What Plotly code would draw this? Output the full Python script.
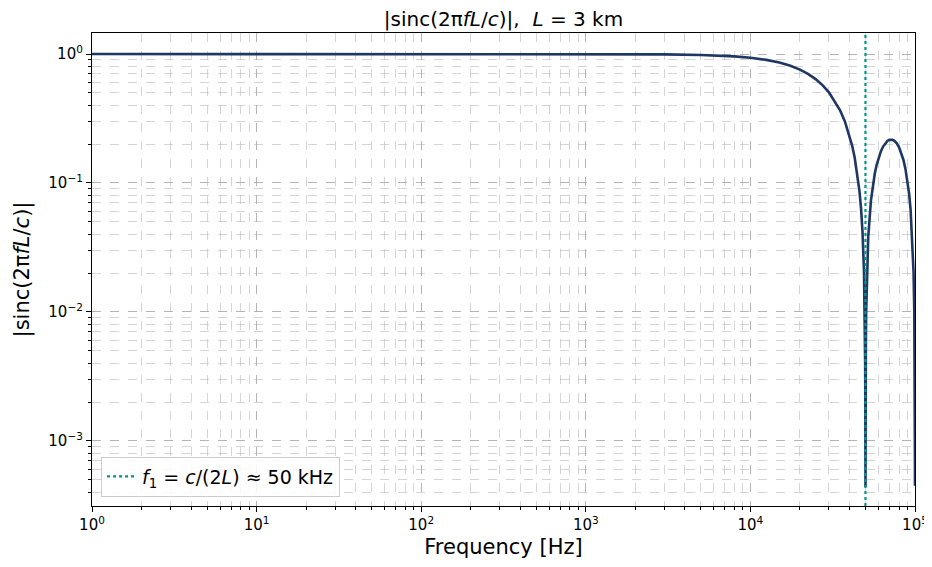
import plotly.graph_objects as go

# Frequency samples [Hz] and |sinc| magnitude
freq_hz = [1, 10, 100, 1000, 2000, 3000, 5000, 6500, 8000, 10000, 12500, 15000,
           17500, 20000, 22500, 25000, 27500, 30000, 35000, 37500, 40000, 41500,
           43000, 45000, 46000, 47000, 48000, 49000, 49500, 49800, 49900, 49960,
           49978, 50022, 50100, 50300, 50500, 51000, 52000, 54000, 55500, 57000,
           58500, 60000, 62000, 64000, 66000, 68000, 69800, 71500, 73000, 75000,
           77500, 80000, 82500, 85000, 87500, 90000, 92000, 94000, 97000, 98000,
           99000, 99500, 99800, 99930, 99955]
magnitude = [1.0, 1.0, 1.0, 0.99934, 0.9974, 0.9941, 0.9836, 0.9723, 0.9585, 0.9355,
             0.9003, 0.8584, 0.8103, 0.7568, 0.6987, 0.6366, 0.5716, 0.5046, 0.3679,
             0.3001, 0.2339, 0.1952, 0.1576, 0.1093, 0.0861, 0.0635, 0.04155, 0.0204,
             0.0101, 0.00402, 0.002004, 0.0008, 0.00044, 0.00044, 0.001996, 0.005964,
             0.0099, 0.0196, 0.03835, 0.0733, 0.0971, 0.1189, 0.1385, 0.1559, 0.1757,
             0.1916, 0.2036, 0.2118, 0.2159, 0.2172, 0.2163, 0.2122, 0.2028, 0.1892,
             0.1719, 0.1515, 0.1286, 0.1039, 0.0833, 0.0623, 0.03075, 0.02035, 0.0101,
             0.00502, 0.002, 0.0007, 0.00045]

f1_hz = 50000
y_range = [3.13e-4, 1.455]

x_tickvals = [1, 10, 100, 1000, 10000, 100000]
x_ticktext = ["10<sup>0</sup>", "10<sup>1</sup>", "10<sup>2</sup>",
              "10<sup>3</sup>", "10<sup>4</sup>", "10<sup>5</sup>"]
y_tickvals = [1e-3, 1e-2, 1e-1, 1]
y_ticktext = ["10<sup>−3</sup>", "10<sup>−2</sup>", "10<sup>−1</sup>", "10<sup>0</sup>"]

fig = go.Figure()
fig.add_trace(go.Scatter(
    x=freq_hz, y=magnitude, mode="lines",
    line=dict(color="#1f3763", width=2.6),
    showlegend=False,
))
fig.add_trace(go.Scatter(
    x=[f1_hz, f1_hz], y=y_range, mode="lines",
    line=dict(color="#00968a", width=2.2, dash="dot"),
    name="<i>f</i><sub>1</sub> = <i>c</i>/(2<i>L</i>) ≈ 50 kHz",
    showlegend=True,
))

axis_common = dict(
    type="log",
    automargin=True,
    ticklabeloverflow="allow",
    showline=True, linecolor="black", linewidth=1.2, mirror=True,
    ticks="outside", ticklen=5, tickwidth=1, tickcolor="black",
    showgrid=True, gridcolor="rgba(165,165,165,0.7)", gridwidth=1, griddash="dash",
    zeroline=False,
    tickfont=dict(family="DejaVu Sans", size=15, color="black"),
    minor=dict(dtick="D1", ticks="outside", ticklen=3, tickcolor="black", showgrid=True,
               gridcolor="rgba(185,185,185,0.6)", griddash="dash", gridwidth=1),
)

fig.update_xaxes(
    **axis_common,
    range=[0, 5],
    tickvals=x_tickvals, ticktext=x_ticktext,
    title=dict(text="Frequency [Hz]", font=dict(family="DejaVu Sans", size=21, color="black"),
               standoff=8),
)
fig.update_yaxes(
    **axis_common,
    range=[-3.5045, 0.1629],
    tickvals=y_tickvals, ticktext=y_ticktext,
    title=dict(text="|sinc(2π<i>fL</i>/<i>c</i>)|",
               font=dict(family="DejaVu Sans", size=21, color="black"), standoff=12),
)

fig.update_layout(
    width=924, height=551,
    margin=dict(l=84, r=17, t=25, b=53, autoexpand=False),
    plot_bgcolor="white", paper_bgcolor="white",
    font=dict(family="DejaVu Sans", color="black"),
    title=dict(text="|sinc(2π<i>fL</i>/<i>c</i>)|,  <i>L</i> = 3 km",
               x=0.5, xref="paper", xanchor="center", y=0.992, yref="container", yanchor="top",
               font=dict(family="DejaVu Sans", size=20, color="black")),
    legend=dict(x=0.011, y=0.02, xanchor="left", yanchor="bottom",
                bgcolor="rgba(255,255,255,0.85)", bordercolor="#cccccc", borderwidth=1,
                font=dict(family="DejaVu Sans", size=19, color="black")),
)

fig.write_html("out.html")
